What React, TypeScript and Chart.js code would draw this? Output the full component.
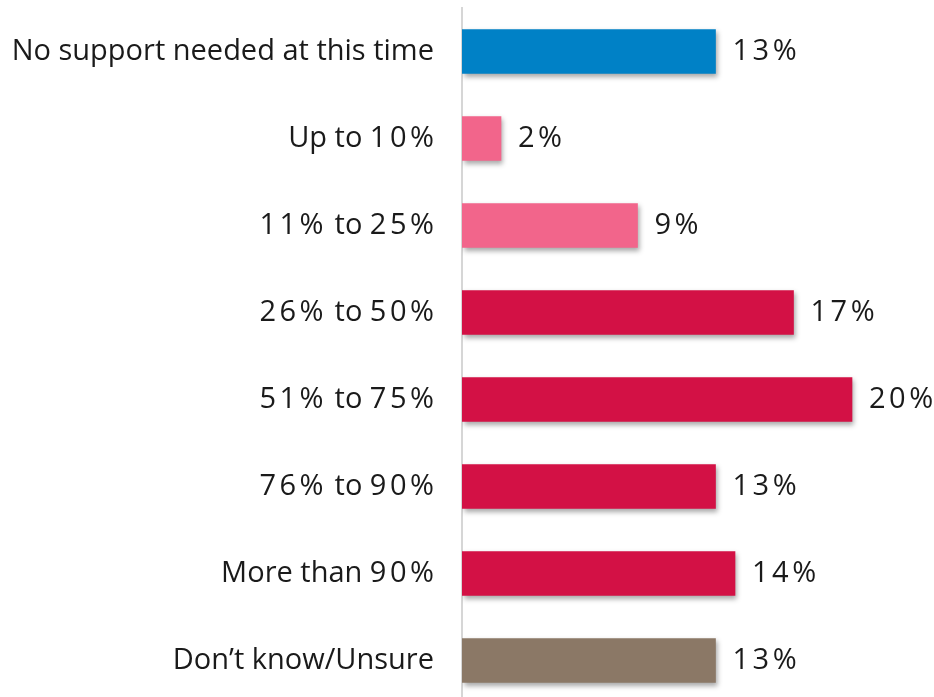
import React, { useEffect, useRef } from "react";
import { Chart, registerables } from "chart.js";

Chart.register(...registerables);

const categories = [
  "No support needed at this time",
  "Up to 10%",
  "11% to 25%",
  "26% to 50%",
  "51% to 75%",
  "76% to 90%",
  "More than 90%",
  "Don\u2019t know/Unsure",
];
const values = [13, 2, 9, 17, 20, 13, 14, 13];
const barColors = [
  "#0081C6",
  "#F2658B",
  "#F2658B",
  "#D31145",
  "#D31145",
  "#D31145",
  "#D31145",
  "#8B7866",
];

const FONT = "'Open Sans', sans-serif";
const FONT_SIZE = 29;
const TEXT_COLOR = "#1a1a1a";
const DIGIT_SPACING = 3.5;

// draw text where digit/percent runs get extra tracking (reference font has wide numerals)
function measureMixed(ctx: CanvasRenderingContext2D, text: string) {
  const chars = Array.from(text);
  let w = 0;
  const adv: number[] = [];
  chars.forEach((ch, i) => {
    let a = ctx.measureText(ch).width;
    const isNum = /[0-9%]/.test(ch);
    if (isNum && i < chars.length - 1) a += DIGIT_SPACING;
    adv.push(a);
    w += a;
  });
  return { chars, adv, w };
}

function drawMixed(
  ctx: CanvasRenderingContext2D,
  text: string,
  x: number,
  y: number,
  align: "left" | "right"
) {
  // Measure normal runs as whole strings for correct kerning
  const parts = text.split(/([0-9%]+)/).filter((p) => p.length);
  const segs = parts.map((p, idx) => {
    const isNum = /^[0-9%]+$/.test(p);
    const last = idx === parts.length - 1;
    if (isNum) {
      const m = measureMixed(ctx, p);
      let w = m.w;
      if (!last) w += DIGIT_SPACING;
      return { p, isNum, w, m };
    }
    return { p, isNum, w: ctx.measureText(p).width, m: null as any };
  });
  const total = segs.reduce((s, g) => s + g.w, 0);
  let cx = align === "right" ? x - total : x;
  ctx.textAlign = "left";
  segs.forEach((g) => {
    if (g.isNum) {
      let px = cx;
      g.m.chars.forEach((ch: string, i: number) => {
        ctx.fillText(ch, px, y);
        px += g.m.adv[i];
      });
    } else {
      ctx.fillText(g.p, cx, y);
    }
    cx += g.w;
  });
}

const shadowPlugin = {
  id: "barShadow",
  beforeDatasetsDraw(chart: any) {
    const ctx = chart.ctx;
    ctx.save();
    ctx.shadowColor = "rgba(0,0,0,0.35)";
    ctx.shadowBlur = 5;
    ctx.shadowOffsetX = 2;
    ctx.shadowOffsetY = 3;
  },
  afterDatasetsDraw(chart: any) {
    chart.ctx.restore();
  },
};

const labelPlugin = {
  id: "labels",
  afterDraw(chart: any) {
    const ctx = chart.ctx;
    const meta = chart.getDatasetMeta(0);
    const yScale = chart.scales.y;
    ctx.save();
    ctx.font = `${FONT_SIZE}px ${FONT}`;
    ctx.fillStyle = TEXT_COLOR;
    ctx.textBaseline = "middle";
    categories.forEach((c, i) => {
      drawMixed(ctx, c, chart.chartArea.left - 28, yScale.getPixelForTick(i), "right");
    });
    meta.data.forEach((bar: any, i: number) => {
      drawMixed(ctx, `${values[i]}%`, bar.x + 17, bar.y, "left");
    });
    ctx.restore();
  },
};

export default function App() {
  const ref = useRef<HTMLCanvasElement>(null);
  useEffect(() => {
    if (!ref.current) return;
    const chart = new Chart(ref.current, {
      type: "bar",
      data: {
        labels: categories,
        datasets: [
          {
            data: values,
            backgroundColor: barColors,
            borderWidth: 0,
            barThickness: 44,
          },
        ],
      },
      options: {
        indexAxis: "y",
        responsive: false,
        animation: false,
        devicePixelRatio: 1,
        layout: { padding: { top: 8, right: 4, left: 0, bottom: 0 } },
        plugins: {
          legend: { display: false },
          tooltip: { enabled: false },
        },
        scales: {
          x: {
            display: false,
            min: 0,
            max: 24,
          },
          y: {
            grid: { display: false, drawTicks: false },
            border: { display: true, color: "#d6d6d6", width: 2 },
            ticks: { display: false },
            afterFit(scale: any) {
              scale.width = 462;
              scale.paddingTop = 0;
              scale.paddingBottom = 0;
            },
          },
        },
      },
      plugins: [shadowPlugin, labelPlugin],
    });
    return () => chart.destroy();
  }, []);
  return (
    <canvas
      ref={ref}
      width={934}
      height={704}
      style={{ position: "absolute", left: 0, top: 0, width: 934, height: 704 }}
    />
  );
}
